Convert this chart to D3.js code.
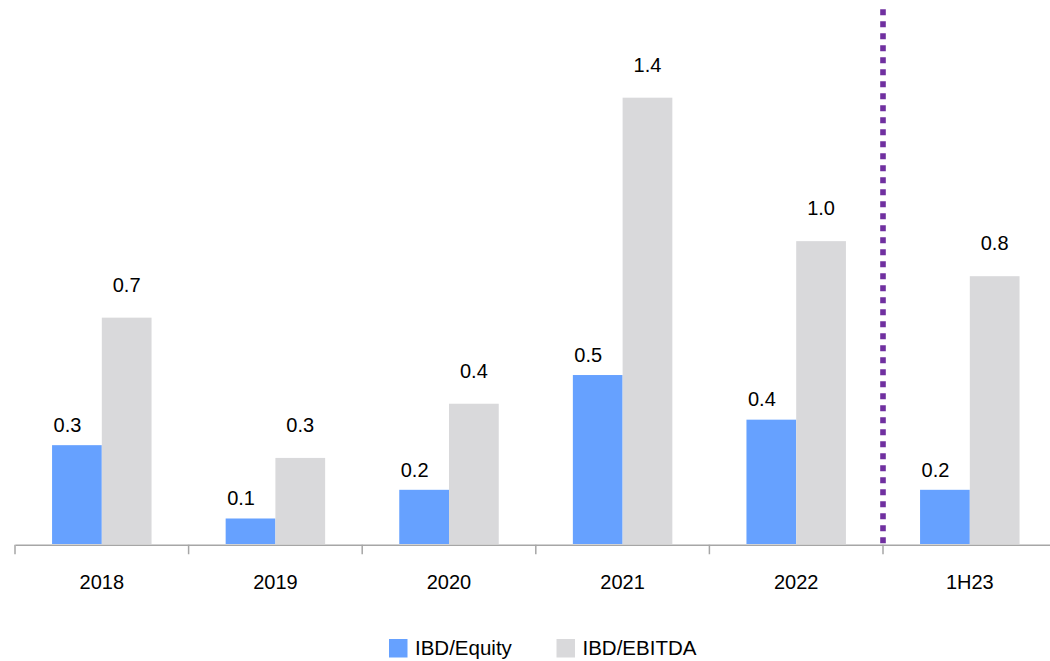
<!DOCTYPE html>
<html>
<head>
<meta charset="utf-8">
<script src="https://cdn.jsdelivr.net/npm/d3@7"></script>
<style>
  html, body { margin: 0; padding: 0; background: #fff; }
  svg { display: block; font-family: "Liberation Sans", Arial, sans-serif; }
</style>
</head>
<body>
<svg id="chart" width="1050" height="661"></svg>
<script>
const categories = ["2018", "2019", "2020", "2021", "2022", "1H23"];
const seriesNames = ["IBD/Equity", "IBD/EBITDA"];
const ibdEquity = [0.31, 0.08, 0.17, 0.53, 0.39, 0.17];
const ibdEbitda = [0.71, 0.27, 0.44, 1.40, 0.95, 0.84];
const colors = ["#66A1FF", "#D9D9DB"];
const dividerAfter = "2022";

const svg = d3.select("#chart");
const baseY = 544;
const x0 = d3.scaleBand().domain(categories).range([15, 1056.6]).padding(0);
const x1 = d3.scaleBand().domain(seriesNames).range([0, x0.bandwidth()]).paddingInner(0).paddingOuter(0.745);
const y = d3.scaleLinear().domain([0, 1.6]).range([baseY, baseY - 1.6 * 318.8]);

const data = categories.map((c, i) => ({ cat: c, vals: [ibdEquity[i], ibdEbitda[i]] }));
const fmt = v => (Math.round(v * 10) / 10).toFixed(1);

// bars
const groups = svg.append("g").selectAll("g").data(data).join("g")
  .attr("transform", d => `translate(${x0(d.cat)},0)`);
groups.selectAll("rect").data(d => d.vals.map((v, k) => ({ v, k })))
  .join("rect")
  .attr("x", d => x1(seriesNames[d.k]))
  .attr("width", x1.bandwidth())
  .attr("y", d => y(d.v))
  .attr("height", d => baseY - y(d.v))
  .attr("fill", d => colors[d.k]);

// value labels
groups.selectAll("text").data(d => d.vals.map((v, k) => ({ v, k })))
  .join("text")
  .attr("x", d => d.k === 0 ? x1(seriesNames[0]) + 1.5 : x1(seriesNames[1]) + x1.bandwidth() / 2)
  .attr("y", d => y(d.v) - (d.k === 0 ? 13.3 : 25.8))
  .attr("text-anchor", d => d.k === 0 ? "start" : "middle")
  .attr("font-size", 20)
  .attr("fill", "#000")
  .text(d => fmt(d.v));

// axis
const axis = d3.axisBottom(x0).tickSize(0).tickSizeOuter(0);
const gAx = svg.append("g").attr("transform", `translate(0,${baseY + 0.75})`).call(axis);
gAx.select(".domain").attr("stroke", "#A6A6A6").attr("stroke-width", 1.5);
gAx.selectAll(".tick text").attr("font-size", 20).attr("fill", "#000")
  .attr("font-family", "Liberation Sans, Arial, sans-serif")
  .attr("y", 44.5).attr("dy", 0);
const bounds = categories.map(c => x0(c)).concat([x0.range()[1]]);
gAx.selectAll(".bound").data(bounds).join("line")
  .attr("class", "bound")
  .attr("x1", d => d).attr("x2", d => d)
  .attr("y1", 0).attr("y2", 9.5)
  .attr("stroke", "#A6A6A6").attr("stroke-width", 1.5);

// divider dotted line
const dx = x0(dividerAfter) + x0.bandwidth();
svg.append("line")
  .attr("x1", dx).attr("x2", dx)
  .attr("y1", 9.3).attr("y2", baseY)
  .attr("stroke", "#7030A0").attr("stroke-width", 5.6)
  .attr("stroke-dasharray", "6 6");

// legend
const legend = [{ name: seriesNames[0], x: 389 }, { name: seriesNames[1], x: 556.5 }];
const lg = svg.append("g").selectAll("g").data(legend).join("g")
  .attr("transform", d => `translate(${d.x},639)`);
lg.append("rect").attr("width", 18.5).attr("height", 18.5)
  .attr("fill", (d, i) => colors[i]);
lg.append("text").attr("x", 26).attr("y", 15.7)
  .attr("font-size", 20.5).attr("fill", "#000")
  .text(d => d.name);
</script>
</body>
</html>
